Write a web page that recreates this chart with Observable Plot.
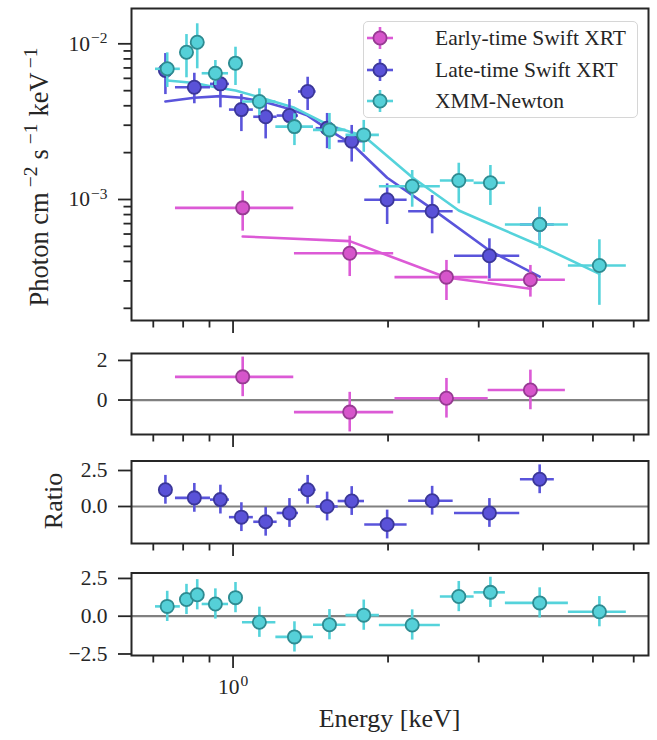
<!DOCTYPE html>
<html><head><meta charset="utf-8">
<script src="https://cdn.jsdelivr.net/npm/d3@7"></script>
<script src="https://cdn.jsdelivr.net/npm/@observablehq/plot@0.6"></script>
<style>
body{margin:0;background:#fff;}
#chart{position:relative;width:657px;height:740px;font-family:'Liberation Serif','Times New Roman',serif;color:#262626;overflow:hidden;}
#chart svg{position:absolute;left:0;}
.legend{position:absolute;left:363px;top:21px;width:273px;height:95px;border:1.5px solid #d6d6d6;border-radius:5px;background:rgba(255,255,255,0.85);}
.legend .row{position:absolute;left:0;height:30px;width:100%;}
.legend .row svg{position:absolute;left:18px;top:0;}
.legend .row span{position:absolute;left:71px;top:1px;font-size:21.5px;line-height:28px;white-space:nowrap;}
</style></head><body><div id="chart"></div>
<script>
// ---------- data ----------
const seriesNames = ["Early-time Swift XRT", "Late-time Swift XRT", "XMM-Newton"];

// Early-time Swift XRT
const earlyE     = [1.044, 1.685, 2.597, 3.78];
const earlyELo   = [0.773, 1.316, 2.063, 3.13];
const earlyEHi   = [1.312, 2.051, 3.13, 4.42];
const earlyFlux  = [8.84e-4, 4.52e-4, 3.17e-4, 3.05e-4];
const earlyFluxLo= [6.26e-4, 3.20e-4, 2.245e-4, 2.36e-4];
const earlyFluxHi= [1.13e-3, 5.81e-4, 4.06e-4, 3.77e-4];
const earlyModel = [5.79e-4, 5.40e-4, 3.155e-4, 2.67e-4];
const earlyRatio = [1.17, -0.61, 0.09, 0.51];
const earlyRatioErr = [1, 1, 1, 1];

// Late-time Swift XRT
const lateE     = [0.739, 0.841, 0.945, 1.038, 1.157, 1.287, 1.396, 1.523, 1.700, 1.992, 2.436, 3.147, 3.940];
const lateELo   = [0.725, 0.773, 0.904, 0.984, 1.097, 1.218, 1.340, 1.45, 1.60, 1.802, 2.193, 2.692, 3.615];
const lateEHi   = [0.755, 0.904, 0.984, 1.095, 1.218, 1.340, 1.45, 1.60, 1.80, 2.178, 2.676, 3.604, 4.207];
const lateFlux  = [6.74e-3, 5.26e-3, 5.53e-3, 3.78e-3, 3.40e-3, 3.46e-3, 4.94e-3, 2.87e-3, 2.37e-3, 9.96e-4, 8.41e-4, 4.35e-4, 6.91e-4];
const lateFluxLo= [4.72e-3, 4.12e-3, 3.88e-3, 2.73e-3, 2.45e-3, 2.77e-3, 3.73e-3, 2.12e-3, 1.74e-3, 6.91e-4, 6.02e-4, 3.09e-4, 5.45e-4];
const lateFluxHi= [8.66e-3, 6.47e-3, 6.57e-3, 4.72e-3, 4.32e-3, 4.39e-3, 6.10e-3, 3.57e-3, 2.99e-3, 1.26e-3, 1.06e-3, 5.59e-4, 8.84e-4];
const lateModel = [4.26e-3, 4.50e-3, 4.61e-3, 4.50e-3, 4.22e-3, 3.82e-3, 3.46e-3, 2.84e-3, 2.28e-3, 1.38e-3, 8.71e-4, 4.70e-4, 3.20e-4];
const lateRatio = [1.16, 0.60, 0.48, -0.74, -1.06, -0.45, 1.16, 0.0, 0.38, -1.25, 0.40, -0.45, 1.89];
const lateRatioErr = [1, 1, 1, 1, 1, 1, 1, 1, 1, 1, 1, 1, 1];

// XMM-Newton
const xmmE     = [0.745, 0.812, 0.852, 0.924, 1.011, 1.125, 1.316, 1.539, 1.794, 2.228, 2.744, 3.161, 3.940, 5.146];
const xmmELo   = [0.707, 0.790, 0.827, 0.871, 0.980, 1.043, 1.211, 1.433, 1.657, 1.924, 2.527, 2.939, 3.380, 4.480];
const xmmEHi   = [0.790, 0.827, 0.871, 0.980, 1.043, 1.211, 1.433, 1.657, 1.924, 2.527, 2.939, 3.380, 4.480, 5.805];
const xmmFlux  = [6.91e-3, 8.83e-3, 1.024e-2, 6.47e-3, 7.51e-3, 4.26e-3, 2.94e-3, 2.80e-3, 2.60e-3, 1.217e-3, 1.324e-3, 1.28e-3, 6.91e-4, 3.77e-4];
const xmmFluxLo= [5.24e-3, 6.05e-3, 6.91e-3, 5.40e-3, 5.40e-3, 3.46e-3, 2.22e-3, 2.09e-3, 2.01e-3, 8.92e-4, 9.38e-4, 9.15e-4, 4.83e-4, 2.09e-4];
const xmmFluxHi= [8.75e-3, 1.147e-2, 1.345e-2, 7.81e-3, 9.51e-3, 5.14e-3, 3.55e-3, 3.57e-3, 3.22e-3, 1.535e-3, 1.71e-3, 1.653e-3, 8.92e-4, 5.51e-4];
const xmmModel = [5.81e-3, 5.67e-3, 5.56e-3, 5.26e-3, 5.01e-3, 4.54e-3, 3.88e-3, 2.99e-3, 2.56e-3, 1.39e-3, 8.50e-4, 6.94e-4, 5.06e-4, 3.33e-4];
const xmmRatio = [0.65, 1.11, 1.42, 0.81, 1.23, -0.40, -1.37, -0.56, 0.07, -0.58, 1.30, 1.58, 0.88, 0.30];
const xmmRatioErr = [1, 1, 1, 1, 1, 1, 1, 1, 1, 1, 1, 1, 1, 1];

// ticks
const energyMajorTicks = [1];
const energyMinorTicks = [0.7, 0.8, 0.9, 2, 3, 4, 5, 6];
const fluxMajorTicks = [1e-3, 1e-2];
const fluxMinorTicks = [2e-4, 3e-4, 4e-4, 5e-4, 6e-4, 7e-4, 8e-4, 9e-4, 2e-3, 3e-3, 4e-3, 5e-3, 6e-3, 7e-3, 8e-3, 9e-3];
const ratioTicks1 = [0, 2];
const ratioTicks2 = [0, 2.5];
const ratioTicks3 = [-2.5, 0, 2.5];

// ---------- build ----------
const INK = "#262626";
const FONT = "'Liberation Serif','Times New Roman',serif";
const TICK_FS = 21.5;
const MAJ = 13, MIN = 7.5;
const styles = [
  {fill: "#d655cb", edge: "#963b92", err: "#dc5ad6"},
  {fill: "#5a52d8", edge: "#3b3799", err: "#5a54db"},
  {fill: "#55d0d8", edge: "#2e8b91", err: "#55d3db"}
];
function table(E, Elo, Ehi, F, Flo, Fhi, M, R, Rerr) {
  return E.map((e, i) => ({E: e, Elo: Elo[i], Ehi: Ehi[i], F: F[i], Flo: Flo[i], Fhi: Fhi[i], M: M[i],
    R: R[i], Rlo: R[i] - Rerr[i], Rhi: R[i] + Rerr[i]}));
}
const tables = [
  table(earlyE, earlyELo, earlyEHi, earlyFlux, earlyFluxLo, earlyFluxHi, earlyModel, earlyRatio, earlyRatioErr),
  table(lateE, lateELo, lateEHi, lateFlux, lateFluxLo, lateFluxHi, lateModel, lateRatio, lateRatioErr),
  table(xmmE, xmmELo, xmmEHi, xmmFlux, xmmFluxLo, xmmFluxHi, xmmModel, xmmRatio, xmmRatioErr)
];

// power-of-ten labels: "10^e" (rebuilt below into a real superscript tspan)
const pow10 = d => "10^" + Math.round(Math.log10(d));
const fmtRatio = (digits) => d => (d < 0 ? "\u2212" : "") + Math.abs(d).toFixed(digits);

const W = 657, ML = 131, MR = 9;
const xScale = {type: "log", domain: [0.635, 6.41]};
const chart = document.getElementById("chart");

function xAxes(labels) {
  return [
    Plot.axisX(energyMinorTicks, {tickSize: MIN, strokeWidth: 1.8, color: INK, tickFormat: () => "", label: null}),
    Plot.axisX(energyMajorTicks, {tickSize: MAJ, strokeWidth: 1.8, color: INK, tickPadding: 10,
      tickFormat: labels ? pow10 : () => "", label: null})
  ];
}
function dataMarks(t, s, yKey, loKey, hiKey) {
  return [
    Plot.ruleX(t, {x: "E", y1: loKey, y2: hiKey, stroke: s.err, strokeWidth: 2.6}),
    Plot.ruleY(t, {y: yKey, x1: "Elo", x2: "Ehi", stroke: s.err, strokeWidth: 2.6}),
    Plot.dot(t, {x: "E", y: yKey, r: 6.6, fill: s.fill, stroke: s.edge, strokeWidth: 1.8})
  ];
}
function fixTicks(svg) {
  const groups = d3.select(svg).selectAll('g[aria-label$="tick label"]');
  groups.selectAll("text").each(function () {
    const s = this.textContent;
    const m = s.match(/^10\^(-?\d+)$/);
    if (m) {
      const t = d3.select(this);
      t.text("10");
      t.append("tspan").attr("dx", 1).attr("dy", "-0.5em").attr("font-size", "0.72em").text(m[1].replace("-", "\u2212"));
    }
  });
}
function place(svg, top) { fixTicks(svg); svg.style.top = top + "px"; chart.appendChild(svg); }

// Panel 1: spectra
const p1 = Plot.plot({
  width: W, height: 335, marginLeft: ML, marginRight: MR, marginTop: 8, marginBottom: 15,
  style: {fontFamily: FONT, fontSize: TICK_FS + "px", color: INK, background: "transparent"},
  x: xScale,
  y: {type: "log", domain: [1.67e-4, 1.686e-2]},
  marks: [
    ...tables.map((t, i) => Plot.line(t, {x: "E", y: "M", stroke: styles[i].err, strokeWidth: 2.6})),
    ...tables.flatMap((t, i) => dataMarks(t, styles[i], "F", "Flo", "Fhi")),
    Plot.frame({stroke: INK, strokeWidth: 2}),
    Plot.axisY(fluxMinorTicks, {tickSize: MIN, strokeWidth: 1.8, color: INK, tickFormat: () => "", label: null}),
    Plot.axisY(fluxMajorTicks, {tickSize: MAJ, strokeWidth: 1.8, color: INK, tickPadding: 11, tickFormat: pow10, label: null}),
    ...xAxes(false)
  ]
});
place(p1, 0);

// Residual panels
const resid = [
  {top: 340, height: 110, mt: 13, mb: 16, domain: [-1.74, 2.35], ticks: ratioTicks1, fmt: fmtRatio(0)},
  {top: 450, height: 108, mt: 10.5, mb: 15, domain: [-2.57, 3.16], ticks: ratioTicks2, fmt: fmtRatio(1)},
  {top: 560, height: 180, mt: 12.5, mb: 85, domain: [-2.6, 2.86], ticks: ratioTicks3, fmt: fmtRatio(1)}
];
resid.forEach((r, i) => {
  const p = Plot.plot({
    width: W, height: r.height, marginLeft: ML, marginRight: MR, marginTop: r.mt, marginBottom: r.mb,
    style: {fontFamily: FONT, fontSize: TICK_FS + "px", color: INK, background: "transparent"},
    x: xScale,
    y: {domain: r.domain},
    marks: [
      Plot.ruleY([0], {stroke: "#808080", strokeWidth: 2.2}),
      ...dataMarks(tables[i], styles[i], "R", "Rlo", "Rhi"),
      Plot.frame({stroke: INK, strokeWidth: 2}),
      Plot.axisY(r.ticks, {tickSize: MAJ, strokeWidth: 1.8, color: INK, tickPadding: 11, tickFormat: r.fmt, label: null}),
      ...xAxes(i === 2)
    ]
  });
  place(p, r.top);
});

// Axis titles (overlay)
const ov = d3.select(chart).append("svg").attr("width", W).attr("height", 740)
  .style("top", "0px").style("pointer-events", "none")
  .attr("font-family", FONT).attr("fill", INK);
const yl = ov.append("text").attr("transform", "translate(48,177) rotate(-90)")
  .attr("text-anchor", "middle").attr("font-size", 26.5);
yl.append("tspan").text("Photon cm");
yl.append("tspan").attr("dx", 5).attr("dy", -11).attr("font-size", 19.5).text("\u22122");
yl.append("tspan").attr("dx", 7).attr("dy", 11).text("s");
yl.append("tspan").attr("dx", 5).attr("dy", -11).attr("font-size", 19.5).text("\u22121");
yl.append("tspan").attr("dx", 7).attr("dy", 11).text("keV");
yl.append("tspan").attr("dx", 4).attr("dy", -11).attr("font-size", 19.5).text("\u22121");
ov.append("text").attr("transform", "translate(62,501) rotate(-90)").attr("text-anchor", "middle")
  .attr("font-size", 26).text("Ratio");
ov.append("text").attr("x", 389.5).attr("y", 727).attr("text-anchor", "middle")
  .attr("font-size", 26).text("Energy [keV]");

// Legend
const leg = document.createElement("div");
leg.className = "legend";
seriesNames.forEach((name, i) => {
  const row = document.createElement("div");
  row.className = "row";
  row.style.top = (1 + i * 31.6) + "px";
  const s = styles[i];
  row.innerHTML = `<svg width="32" height="30"><line x1="3" x2="29" y1="15" y2="15" stroke="${s.err}" stroke-width="2.6"/>` +
    `<line x1="16" x2="16" y1="4" y2="26" stroke="${s.err}" stroke-width="2.6"/>` +
    `<circle cx="16" cy="15" r="6.6" fill="${s.fill}" stroke="${s.edge}" stroke-width="1.8"/></svg><span>${name}</span>`;
  leg.appendChild(row);
});
chart.appendChild(leg);
</script></body></html>
